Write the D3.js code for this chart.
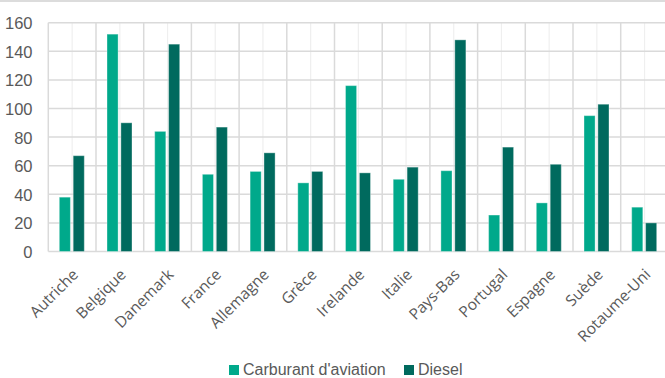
<!DOCTYPE html>
<html>
<head>
<meta charset="utf-8">
<script src="https://cdn.jsdelivr.net/npm/d3@7"></script>
<style>
  html, body { margin: 0; padding: 0; background: #fff; }
  svg { display: block; }
</style>
</head>
<body>
<svg id="chart" width="665" height="378"></svg>
<script>
// Consumption per country, two fuel types
const countries = ["Autriche", "Belgique", "Danemark", "France", "Allemagne", "Grèce", "Irelande",
  "Italie", "Pays-Bas", "Portugal", "Espagne", "Suède", "Rotaume-Uni"];
const seriesNames = ["Carburant d'aviation", "Diesel"];
const aviation = [38, 152, 84, 54, 56, 48, 116, 50.5, 56.5, 25.5, 34, 95, 31];
const diesel = [67, 90, 145, 87, 69, 56, 55, 59, 148, 73, 61, 103, 20];
const yTicks = [0, 20, 40, 60, 80, 100, 120, 140, 160];
const colors = ["#00a98b", "#006a5e"];

const svg = d3.select("#chart");
const W = 665, H = 378;
const plot = { left: 48.3, top: 22.7, bottom: 251.5 };
const bandW = 47.7;

// top border of the chart frame
svg.append("rect").attr("x", 0).attr("y", 0).attr("width", W).attr("height", 2).attr("fill", "#dcdcdc");

const x0 = d3.scaleBand().domain(countries)
  .range([plot.left, plot.left + bandW * countries.length]).padding(0);
const x1 = d3.scaleBand().domain(seriesNames).range([11, 36]).paddingInner(0.2).paddingOuter(0);
const y = d3.scaleLinear().domain([0, 160]).range([plot.bottom, plot.top]);

const grid = svg.append("g");
// minor vertical lines at category centres
grid.selectAll("line.minor").data(countries).join("line")
  .attr("x1", d => x0(d) + x0.bandwidth() / 2).attr("x2", d => x0(d) + x0.bandwidth() / 2)
  .attr("y1", plot.top).attr("y2", plot.bottom)
  .attr("stroke", "#efefef").attr("stroke-width", 1.2);
// major vertical lines at category boundaries
grid.selectAll("line.major").data(countries.concat(["__end"])).join("line")
  .attr("x1", (d, i) => plot.left + i * x0.step()).attr("x2", (d, i) => plot.left + i * x0.step())
  .attr("y1", plot.top).attr("y2", plot.bottom)
  .attr("stroke", "#dadada").attr("stroke-width", 1.5);
// horizontal gridlines
grid.selectAll("line.h").data(yTicks).join("line")
  .attr("x1", plot.left).attr("x2", W + 10)
  .attr("y1", d => y(d)).attr("y2", d => y(d))
  .attr("stroke", "#dadada").attr("stroke-width", 1.5);

// bars
const groups = svg.append("g").selectAll("g").data(countries).join("g")
  .attr("transform", d => `translate(${x0(d)},0)`);
groups.selectAll("rect")
  .data((d, i) => [{ s: seriesNames[0], v: aviation[i] }, { s: seriesNames[1], v: diesel[i] }])
  .join("rect")
  .attr("x", d => x1(d.s))
  .attr("width", x1.bandwidth())
  .attr("y", d => y(d.v))
  .attr("height", d => y(0) - y(d.v))
  .attr("fill", (d, i) => colors[i])
  .attr("stroke", "#ffffff").attr("stroke-opacity", 0.35).attr("stroke-width", 1);

// y-axis labels
const yAxis = d3.axisLeft(y).tickValues(yTicks).tickSize(0).tickPadding(0);
const ya = svg.append("g").attr("transform", "translate(32.5,0)").call(yAxis);
ya.select(".domain").remove();
ya.selectAll("text")
  .attr("font-family", "'Liberation Sans', Arial, sans-serif")
  .attr("font-size", 16.5).attr("fill", "#595959").attr("dy", "0.36em");

// x-axis labels, rotated
const xAxis = d3.axisBottom(x0).tickSize(0).tickPadding(0);
const xa = svg.append("g").attr("transform", `translate(0,${plot.bottom})`).call(xAxis);
xa.select(".domain").remove();
xa.selectAll(".tick text")
  .attr("font-family", "'Open Sans', sans-serif")
  .attr("font-size", 15.5).attr("fill", "#595959")
  .attr("text-anchor", "end")
  .attr("y", 0).attr("dy", 0)
  .attr("transform", "translate(7,24) rotate(-45)");

// legend
const legend = svg.append("g");
const legendX = [229, 404];
seriesNames.forEach((name, i) => {
  legend.append("rect").attr("x", legendX[i]).attr("y", 365).attr("width", 10).attr("height", 10)
    .attr("fill", colors[i]);
  legend.append("text").attr("x", legendX[i] + 14).attr("y", 374.5)
    .attr("font-family", "'Liberation Sans', Arial, sans-serif")
    .attr("font-size", 16).attr("fill", "#595959").text(name);
});
</script>
</body>
</html>
